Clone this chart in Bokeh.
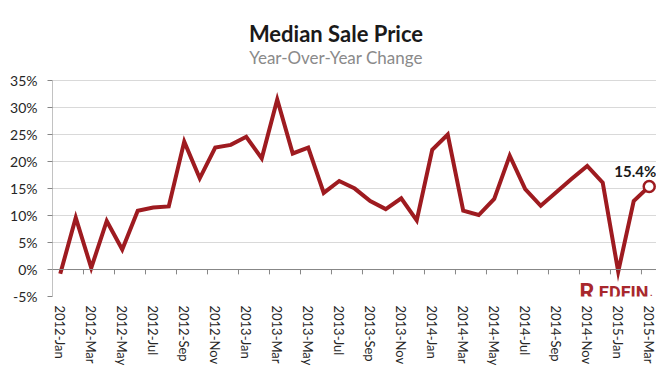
from bokeh.plotting import figure
from bokeh.models import FixedTicker, Span, Label, ColumnDataSource, Range1d
from bokeh.embed import file_html
from bokeh.resources import INLINE

categories = [
    "2012-Jan", "2012-Feb", "2012-Mar", "2012-Apr", "2012-May", "2012-Jun",
    "2012-Jul", "2012-Aug", "2012-Sep", "2012-Oct", "2012-Nov", "2012-Dec",
    "2013-Jan", "2013-Feb", "2013-Mar", "2013-Apr", "2013-May", "2013-Jun",
    "2013-Jul", "2013-Aug", "2013-Sep", "2013-Oct", "2013-Nov", "2013-Dec",
    "2014-Jan", "2014-Feb", "2014-Mar", "2014-Apr", "2014-May", "2014-Jun",
    "2014-Jul", "2014-Aug", "2014-Sep", "2014-Oct", "2014-Nov", "2014-Dec",
    "2015-Jan", "2015-Feb", "2015-Mar",
]
yoy_change = [
    -0.8, 9.6, 0.3, 9.0, 3.7, 10.9, 11.5, 11.7, 23.7, 16.9, 22.6, 23.1,
    24.6, 20.6, 31.5, 21.5, 22.6, 14.2, 16.4, 15.0, 12.7, 11.2, 13.2, 9.1,
    22.2, 25.0, 10.9, 10.1, 13.1, 21.1, 14.9, 11.8, 14.3, 16.8, 19.2, 16.1,
    -0.4, 12.7, 15.4,
]
y_ticks = [-5, 0, 5, 10, 15, 20, 25, 30, 35]
title_text = "Median Sale Price"
subtitle_text = "Year-Over-Year Change"

RED = "#9e1b20"
LOGO = "#a8282d"
FONT = "Lato"

n = len(categories)
idx = list(range(n))
y_min, y_max = y_ticks[0], y_ticks[-1]

# frame runs to the top/right of the canvas so titles and the end label are not clipped
p = figure(width=656, height=368, output_backend="svg", toolbar_location=None,
           x_range=Range1d(-0.5, n - 0.5 - 0.03), y_range=Range1d(y_min, 49.85),
           min_border_left=52, min_border_right=0, min_border_top=0,
           min_border_bottom=70)
p.outline_line_color = None
p.background_fill_color = "white"
p.border_fill_color = "white"

# grid
p.xgrid.grid_line_color = None
p.ygrid.ticker = FixedTicker(ticks=y_ticks)
p.ygrid.grid_line_color = "#d9d9d9"
p.ygrid.grid_line_width = 1

# y axis (line drawn manually so it stops at the top tick)
p.yaxis.ticker = FixedTicker(ticks=y_ticks)
p.yaxis.major_label_overrides = {t: f"{t}%" for t in y_ticks}
p.yaxis.axis_line_color = None
p.yaxis.major_tick_line_color = "#868686"
p.yaxis.major_tick_out = 5
p.yaxis.major_tick_in = 0
p.yaxis.minor_tick_line_color = None
p.yaxis.major_label_standoff = 10
p.yaxis.major_label_text_font = FONT
p.yaxis.major_label_text_font_size = "14px"
p.yaxis.major_label_text_color = "#262626"
p.segment(x0=[-0.5], x1=[-0.5], y0=[y_min], y1=[y_max], line_color="#868686",
          line_width=1)

# x axis (labels only at bottom)
label_pos = list(range(0, n, 2))
p.xaxis.ticker = FixedTicker(ticks=label_pos)
p.xaxis.major_label_overrides = {i: categories[i] for i in label_pos}
p.xaxis.major_label_orientation = "vertical"
p.xaxis.axis_line_color = None
p.xaxis.major_tick_line_color = None
p.xaxis.major_tick_out = 0
p.xaxis.major_tick_in = 0
p.xaxis.minor_tick_line_color = None
p.xaxis.major_label_standoff = 9
p.xaxis.major_label_text_font = FONT
p.xaxis.major_label_text_font_size = "13px"
p.xaxis.major_label_text_color = "#262626"

# zero line with tick marks at category boundaries
p.add_layout(Span(location=0, dimension="width", line_color="#868686", line_width=1))
bounds = [i - 0.5 for i in range(2, n, 2)]
p.segment(x0=bounds, x1=bounds, y0=[0] * len(bounds), y1=[-0.9] * len(bounds),
          line_color="#868686", line_width=1)

# data line
src = ColumnDataSource(data=dict(x=idx, y=yoy_change))
p.line("x", "y", source=src, line_color=RED, line_width=4, line_join="miter")
p.scatter(x=[idx[-1]], y=[yoy_change[-1]], size=11, fill_color="white",
          line_color=RED, line_width=2.5)
p.add_layout(Label(x=idx[-1], y=yoy_change[-1], text=f"{yoy_change[-1]:.1f}%",
                   text_font=FONT, text_font_style="bold", text_font_size="15px",
                   text_color="#1a1a1a", text_align="right",
                   text_baseline="alphabetic", x_offset=7, y_offset=15))

# titles
p.add_layout(Label(x=283.5, y=43.7, x_units="screen", text=title_text,
                   text_font=FONT, text_font_style="bold", text_font_size="22px",
                   text_color="#1a1a1a", text_align="center",
                   text_baseline="alphabetic"))
p.add_layout(Label(x=283.5, y=39.2, x_units="screen", text=subtitle_text,
                   text_font=FONT, text_font_size="17px", text_color="#8a8a8a",
                   text_align="center", text_baseline="alphabetic"))

# logo
logo_y = -4.2
p.add_layout(Label(x=527, y=logo_y, x_units="screen",
                   text="R", text_font="Roboto", text_font_style="bold",
                   text_font_size="23px", text_color=LOGO,
                   text_align="left", text_baseline="alphabetic"))
p.add_layout(Label(x=596, y=logo_y, x_units="screen",
                   text="EDFIN", text_font="Roboto", text_font_style="bold",
                   text_font_size="18px", text_color=LOGO,
                   text_align="right", text_baseline="alphabetic"))
p.add_layout(Label(x=600, y=logo_y, x_units="screen",
                   text=".", text_font="Roboto", text_font_style="bold",
                   text_font_size="9px", text_color=LOGO,
                   text_align="right", text_baseline="alphabetic"))

open("out.html", "w").write(file_html(p, INLINE))
